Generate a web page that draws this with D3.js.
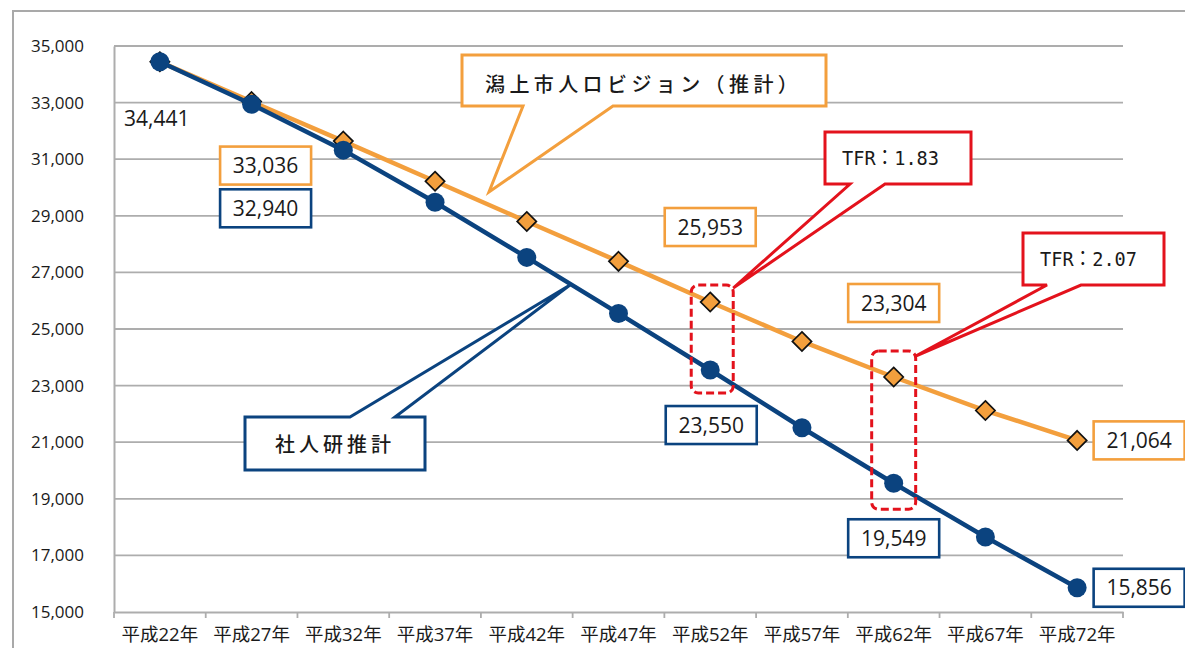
<!DOCTYPE html>
<html lang="ja">
<head>
<meta charset="utf-8">
<script src="https://cdn.jsdelivr.net/npm/d3@7/dist/d3.min.js"></script>
<style>
  html, body { margin: 0; padding: 0; background: #fff; }
  svg { display: block; }
  text { font-family: "Open Sans", "Noto Sans CJK JP", sans-serif; fill: #1a1a1a; }
  .jp { font-family: "Noto Sans CJK JP", sans-serif; }
  .mono { font-family: "DejaVu Sans Mono", "Noto Sans CJK JP", monospace; }
</style>
</head>
<body>
<svg id="chart" width="1185" height="648"></svg>
<script>
// Population projection for Katagami city (persons), Heisei 22 to Heisei 72
const categories = ["平成22年", "平成27年", "平成32年", "平成37年", "平成42年", "平成47年",
                    "平成52年", "平成57年", "平成62年", "平成67年", "平成72年"];
const visionValues = [34441, 33036, 31640, 30220, 28800, 27390, 25953, 24560, 23304, 22120, 21064];
const ipssValues   = [34441, 32940, 31320, 29480, 27530, 25550, 23550, 21510, 19549, 17650, 15856];
const yTicks = [15000, 17000, 19000, 21000, 23000, 25000, 27000, 29000, 31000, 33000, 35000];
const visionName = "潟上市人ロビジョン（推計）";
const ipssName = "社人研推計";
const tfrNotes = ["TFR：1.83", "TFR：2.07"];

const ORANGE = "#f39f3d";
const BLUE = "#0b437f";
const RED = "#e3121c";
const GRID = "#adadad";

const svg = d3.select("#chart");
const plot = { left: 114, right: 1123, top: 46, bottom: 612 };

// outer frame of the chart area
svg.append("rect")
  .attr("x", 13).attr("y", 11).attr("width", 1200).attr("height", 700)
  .attr("fill", "none").attr("stroke", "#a9a9a9").attr("stroke-width", 2);

const x = d3.scaleBand().domain(categories).range([plot.left, plot.right]).padding(0);
const y = d3.scaleLinear().domain([15000, 35000]).range([plot.bottom, plot.top]);
const cx = c => x(c) + x.bandwidth() / 2;

// horizontal gridlines
svg.append("g").selectAll("line").data(yTicks.filter(t => t > 15000)).join("line")
  .attr("x1", plot.left).attr("x2", plot.right)
  .attr("y1", d => y(d)).attr("y2", d => y(d))
  .attr("stroke", GRID).attr("stroke-width", 1.8);

// y axis
const yAxis = svg.append("g").attr("transform", `translate(${plot.left},0)`)
  .call(d3.axisLeft(y).tickValues(yTicks).tickFormat(d3.format(",")).tickSize(0).tickPadding(30));
yAxis.select(".domain").attr("stroke", GRID).attr("stroke-width", 2);
yAxis.selectAll("text").attr("font-size", 17).attr("fill", "#1a1a1a");

// x axis with ticks on category boundaries
const xAxis = svg.append("g").attr("transform", `translate(0,${plot.bottom})`)
  .call(d3.axisBottom(x).tickSize(0).tickPadding(16));
xAxis.select(".domain").attr("stroke", GRID).attr("stroke-width", 2);
xAxis.selectAll("text").attr("font-size", 18.5).attr("fill", "#1a1a1a");
svg.append("g").selectAll("line").data(categories.concat(["end"])).join("line")
  .attr("x1", (d, i) => plot.left + i * x.bandwidth())
  .attr("x2", (d, i) => plot.left + i * x.bandwidth())
  .attr("y1", plot.bottom).attr("y2", plot.bottom + 6)
  .attr("stroke", GRID).attr("stroke-width", 1.8);

const line = d3.line().x((d, i) => cx(categories[i])).y(d => y(d));

// vision series: orange line with diamonds
svg.append("path").datum(visionValues).attr("d", line)
  .attr("fill", "none").attr("stroke", ORANGE).attr("stroke-width", 4.5);
svg.append("g").selectAll("path").data(visionValues).join("path")
  .attr("d", d3.symbol().type(d3.symbolDiamond2).size(235))
  .attr("transform", (d, i) => `translate(${cx(categories[i])},${y(d)})`)
  .attr("fill", ORANGE).attr("stroke", "#111").attr("stroke-width", 1.7);

// IPSS series: blue line with circles
svg.append("path").datum(ipssValues).attr("d", line)
  .attr("fill", "none").attr("stroke", BLUE).attr("stroke-width", 4.5);
svg.append("g").selectAll("circle").data(ipssValues).join("circle")
  .attr("cx", (d, i) => cx(categories[i])).attr("cy", d => y(d)).attr("r", 9.5)
  .attr("fill", BLUE);

// value labels (offset in px from the point)
const fmt = d3.format(",");
const visionLabels = [
  { i: 1, dx: 14, dy: 64 }, { i: 6, dx: 0, dy: -75 },
  { i: 8, dx: 0, dy: -74 }, { i: 10, dx: 62, dy: 0 }
];
const ipssLabels = [
  { i: 1, dx: 14, dy: 104 }, { i: 6, dx: 1, dy: 55 },
  { i: 8, dx: 0, dy: 55 }, { i: 10, dx: 62, dy: 0 }
];
function boxLabels(values, labels, color) {
  const g = svg.append("g").selectAll("g").data(labels).join("g")
    .attr("transform", d => `translate(${cx(categories[d.i]) + d.dx},${y(values[d.i]) + d.dy})`);
  g.append("rect").attr("x", -45.5).attr("y", -19).attr("width", 91).attr("height", 38)
    .attr("fill", "#fff").attr("stroke", color).attr("stroke-width", 2.6);
  g.append("text").attr("text-anchor", "middle").attr("dy", "0.36em")
    .attr("font-size", 21).text(d => fmt(values[d.i]));
}
boxLabels(visionValues, visionLabels, ORANGE);
boxLabels(ipssValues, ipssLabels, BLUE);

// starting value label (shared by both series)
svg.append("text")
  .attr("x", cx(categories[0]) - 3).attr("y", y(ipssValues[0]) + 57)
  .attr("text-anchor", "middle").attr("dy", "0.36em").attr("font-size", 21)
  .text(fmt(ipssValues[0]));

// dashed frames around the Heisei 52 and Heisei 62 points
const frames = [
  { i: 6, left: 19, right: 23, top: 17, bottom: 23 },
  { i: 8, left: 22, right: 22, top: 26, bottom: 26 }
];
const frameBoxes = frames.map(f => {
  const xc = cx(categories[f.i]);
  return {
    x0: xc - f.left, x1: xc + f.right,
    y0: y(visionValues[f.i]) - f.top, y1: y(ipssValues[f.i]) + f.bottom
  };
});
svg.append("g").selectAll("rect").data(frameBoxes).join("rect")
  .attr("x", d => d.x0).attr("y", d => d.y0)
  .attr("width", d => d.x1 - d.x0).attr("height", d => d.y1 - d.y0)
  .attr("rx", 7).attr("fill", "none").attr("stroke", RED)
  .attr("stroke-width", 3).attr("stroke-dasharray", "8,4");

// callout shapes: rectangle with a wedge-shaped pointer
function calloutBottom(b, t0, t1, tip) {
  return `M${b.x0},${b.y0}H${b.x1}V${b.y1}H${t1}L${tip[0]},${tip[1]}L${t0},${b.y1}H${b.x0}Z`;
}
function calloutTop(b, t0, t1, tip) {
  return `M${b.x0},${b.y0}H${t0}L${tip[0]},${tip[1]}L${t1},${b.y0}H${b.x1}V${b.y1}H${b.x0}Z`;
}

// series name callouts
const visionBox = { x0: 462, y0: 55, x1: 826, y1: 106 };
svg.append("path").attr("d", calloutBottom(visionBox, 523, 613, [489, 192]))
  .attr("fill", "#fff").attr("stroke", ORANGE).attr("stroke-width", 3).attr("stroke-linejoin", "miter");
svg.append("text").attr("class", "jp").attr("x", 485).attr("y", 92)
  .attr("font-size", 20).attr("font-weight", 500).attr("letter-spacing", 4.4)
  .text(visionName);

const ipssBox = { x0: 245, y0: 417, x1: 425, y1: 470 };
svg.append("path").attr("d", calloutTop(ipssBox, 350, 395, [570, 285]))
  .attr("fill", "#fff").attr("stroke", BLUE).attr("stroke-width", 3).attr("stroke-linejoin", "miter");
svg.append("text").attr("class", "jp").attr("x", 335).attr("y", 452)
  .attr("text-anchor", "middle").attr("font-size", 20).attr("font-weight", 500).attr("letter-spacing", 4)
  .text(ipssName);

// TFR callouts pointing at the dashed frames
const tfrBoxes = [
  { x0: 825, y0: 132, x1: 971, y1: 184, t0: 850, t1: 885 },
  { x0: 1023, y0: 233, x1: 1164, y1: 285, t0: 1047, t1: 1081 }
];
tfrBoxes.forEach((b, k) => {
  const fb = frameBoxes[k];
  const tip = [fb.x1, fb.y0 + (k === 0 ? 3 : 5)];
  svg.append("path").attr("d", calloutBottom(b, b.t0, b.t1, tip))
    .attr("fill", "#fff").attr("stroke", RED).attr("stroke-width", 3).attr("stroke-linejoin", "miter");
  svg.append("text").attr("class", "mono").attr("x", b.x0 + 17).attr("y", (b.y0 + b.y1) / 2)
    .attr("dy", "0.36em").attr("font-size", 20).attr("textLength", 97).attr("lengthAdjust", "spacingAndGlyphs")
    .text(tfrNotes[k]);
});
</script>
</body>
</html>
